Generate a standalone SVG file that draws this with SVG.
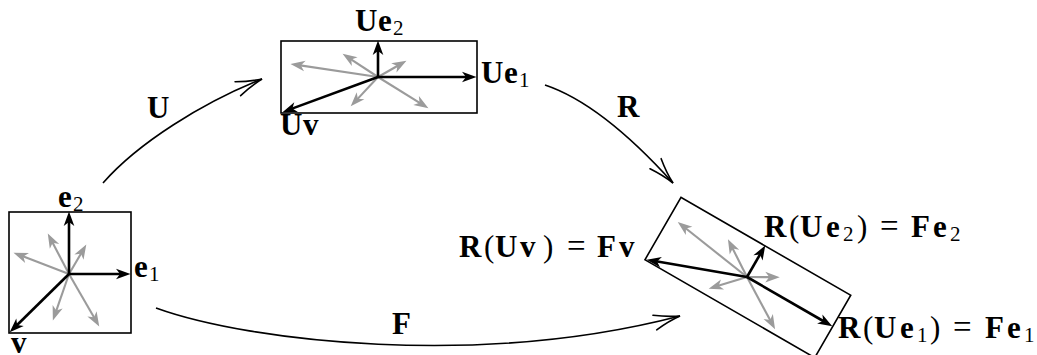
<svg xmlns="http://www.w3.org/2000/svg" width="1037" height="355" viewBox="0 0 1037 355">
<defs>
<style>
.box{fill:none;stroke:#000;stroke-width:1.6}
.vk{stroke:#000;stroke-width:2.6;marker-end:url(#hk)}
.vg{stroke:#9b9b9b;stroke-width:2.1;marker-end:url(#hg)}
.conn{fill:none;stroke:#000;stroke-width:1.6;marker-end:url(#open)}
text{font-family:"Liberation Serif","Times New Roman",serif;font-size:31px;fill:#000}
.b{font-weight:bold}
.n{font-weight:normal}
.s{font-size:21px;font-weight:normal}
.eq{font-size:33px;font-weight:normal}
</style>
<marker id="hk" markerUnits="userSpaceOnUse" viewBox="-10 -10 20 20" markerWidth="20" markerHeight="20" refX="0" refY="0" orient="auto" overflow="visible"><path d="M6.5,0 L-8,-5.3 L-4,0 L-8,5.3 Z" fill="#000"/></marker>
<marker id="hg" markerUnits="userSpaceOnUse" viewBox="-10 -10 20 20" markerWidth="20" markerHeight="20" refX="0" refY="0" orient="auto" overflow="visible"><path d="M6.5,0 L-8,-5.3 L-4,0 L-8,5.3 Z" fill="#9b9b9b"/></marker>
<marker id="open" markerUnits="userSpaceOnUse" viewBox="-30 -15 40 30" markerWidth="40" markerHeight="30" refX="0" refY="0" orient="auto" overflow="visible"><path d="M-26,-7.5 Q-12,-2 0,0 Q-12,2 -26,7.5" fill="none" stroke="#000" stroke-width="1.6" stroke-linecap="round"/></marker>
</defs>

<g id="connectors">
<path class="conn" d="M103,183 C138,143 202,103 262,79"/>
<path class="conn" d="M545,85 C590,100 636,142 673,183"/>
<path class="conn" d="M156,308 C250,342 480,368 680,316"/>
<text class="b" x="147" y="118">U</text>
<text class="b" x="617" y="117">R</text>
<text class="b" x="392" y="334">F</text>
</g>

<g id="node-basis">
<g transform="translate(69,274)">
<rect class="box" x="-60" y="-62" width="122" height="121"/>
<line class="vg" x1="0" y1="0" x2="-49.4" y2="-18.9"/>
<line class="vg" x1="0" y1="0" x2="-18.2" y2="-34.7"/>
<line class="vg" x1="0" y1="0" x2="14" y2="-23.8"/>
<line class="vg" x1="0" y1="0" x2="-14" y2="40.3"/>
<line class="vg" x1="0" y1="0" x2="27" y2="46.8"/>
<line class="vk" x1="0" y1="0" x2="0" y2="-56"/>
<line class="vk" x1="0" y1="0" x2="55" y2="0"/>
<line class="vk" x1="0" y1="0" x2="-54.7" y2="53.8"/>
</g>
<text class="b" x="58" y="207">e<tspan class="s" x="73" y="211">2</tspan></text>
<text class="b" x="134" y="277">e<tspan class="s" x="149" y="281">1</tspan></text>
<text class="b" x="11" y="353">v</text>
</g>

<g id="node-U">
<g transform="translate(378,77)">
<rect class="box" x="-97" y="-36" width="196" height="72"/>
<line class="vg" x1="0" y1="0" x2="-81.1" y2="-12.1"/>
<line class="vg" x1="0" y1="0" x2="-30" y2="-19.7"/>
<line class="vg" x1="0" y1="0" x2="22.8" y2="-13"/>
<line class="vg" x1="0" y1="0" x2="-22.9" y2="24.6"/>
<line class="vg" x1="0" y1="0" x2="44.9" y2="27.8"/>
<line class="vk" x1="0" y1="0" x2="0" y2="-30"/>
<line class="vk" x1="0" y1="0" x2="92" y2="0"/>
<line class="vk" x1="0" y1="0" x2="-89.4" y2="32.9"/>
</g>
<text class="b" x="355" y="31">U<tspan x="378">e</tspan><tspan class="s" x="393" y="35">2</tspan></text>
<text class="b" x="481" y="83">U<tspan x="504">e</tspan><tspan class="s" x="519" y="87">1</tspan></text>
<text class="b" x="280" y="135">U<tspan x="303">v</tspan></text>
</g>

<g id="node-F">
<g transform="translate(747,277) rotate(30)">
<rect class="box" x="-97" y="-36" width="196" height="72"/>
<line class="vg" x1="0" y1="0" x2="-81.1" y2="-12.1"/>
<line class="vg" x1="0" y1="0" x2="-30" y2="-19.7"/>
<line class="vg" x1="0" y1="0" x2="22.8" y2="-13"/>
<line class="vg" x1="0" y1="0" x2="-22.9" y2="24.6"/>
<line class="vg" x1="0" y1="0" x2="44.9" y2="27.8"/>
<line class="vk" x1="0" y1="0" x2="0" y2="-30"/>
<line class="vk" x1="0" y1="0" x2="92" y2="0"/>
<line class="vk" x1="0" y1="0" x2="-89.4" y2="32.9"/>
</g>
<text class="b" x="459" y="257">R<tspan class="n" x="484">(</tspan><tspan x="495">U</tspan><tspan x="520">v</tspan><tspan class="n" x="543">)</tspan><tspan class="eq" x="567">=</tspan><tspan x="597">F</tspan><tspan x="619">v</tspan></text>
<text class="b" x="764" y="237">R<tspan class="n" x="789">(</tspan><tspan x="800">U</tspan><tspan x="826">e</tspan><tspan class="s" x="843" y="241">2</tspan><tspan class="n" x="857" y="237">)</tspan><tspan class="eq" x="880">=</tspan><tspan x="911">F</tspan><tspan x="933">e</tspan><tspan class="s" x="950" y="241">2</tspan></text>
<text class="b" x="838" y="338">R<tspan class="n" x="863">(</tspan><tspan x="874">U</tspan><tspan x="900">e</tspan><tspan class="s" x="917" y="342">1</tspan><tspan class="n" x="930" y="338">)</tspan><tspan class="eq" x="953">=</tspan><tspan x="985">F</tspan><tspan x="1007">e</tspan><tspan class="s" x="1024" y="342">1</tspan></text>
</g>
</svg>
